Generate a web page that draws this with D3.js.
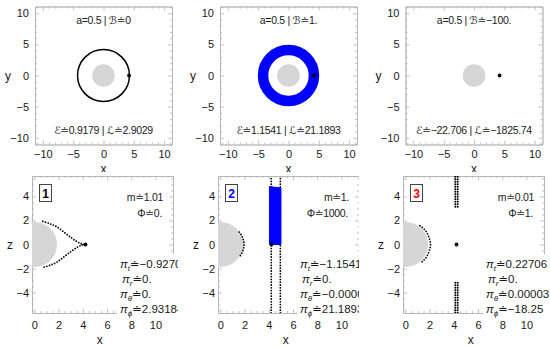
<!DOCTYPE html>
<html>
<head>
<meta charset="utf-8">
<script src="https://cdn.jsdelivr.net/npm/d3@7"></script>
<style>
  body { margin: 0; background: #fff; }
  svg { display: block; font-family: "Liberation Sans", Arial, "DejaVu Sans", sans-serif; }
</style>
</head>
<body>
<svg id="chart"></svg>
<script>
// ---- valores ----
const topTitles = ["a=0.5 | ℬ≐0", "a=0.5 | ℬ≐1.", "a=0.5 | ℬ≐−100."];
const topConsts = ["ℰ≐0.9179 | ℒ≐2.9029", "ℰ≐1.1541 | ℒ≐21.1893", "ℰ≐−22.706 | ℒ≐−1825.74"];
const horizon = 1.866;                 // r+ para a = 0.5
const startX = 4.22;                   // posición inicial de la partícula
const orbitRadius = [4.28, 4.2, null]; // órbita en el plano x-y (null = no hay)
const topTicks = [-10, -5, 0, 5, 10];
const bottomXTicks = [0, 2, 4, 6, 8, 10];
const bottomZTicks = [-4, -2, 0, 2, 4];

const caseLabels = ["1", "2", "3"];
const massText = ["m≐1.01", "m≐1.", "m≐0.01"];
const phiText = ["Φ≐0.", "Φ≐1000.", "Φ≐1."];
const piT = ["−0.92706", "−1.15414", "0.22706"];
const piR = ["0.", "0.", "0."];
const piTheta = ["0.", "−0.00002", "0.00003"];
const piPhi = ["2.93184", "21.1893", "−18.25"];

// trayectorias en el plano x-z (paneles de abajo)
const trace1Upper = [[0.69, 1.92], [1.25, 1.74], [1.84, 1.48], [2.45, 1.02], [3.08, 0.54], [3.5, 0.25], [3.91, 0.05], [4.22, 0]];
const trace1Lower = [[0.8, -1.88], [1.3, -1.72], [1.84, -1.48], [2.45, -1.02], [3.08, -0.54], [3.5, -0.25], [3.91, -0.05], [4.22, 0]];
const trace2Arc = [[1.56, 1.03], [1.75, 0.75], [1.89, 0.4], [1.95, 0], [1.89, -0.4], [1.75, -0.75], [1.56, -1.06]];
const trace2Walls = [4.2, 4.95];
const trace2Band = [[4.05, 0], [4.05, 4.82], [5.0, 4.7], [5.0, 0]];
const trace3Arc = [[1.2, 1.56], [1.5, 1.32], [1.76, 1.0], [1.96, 0.55], [2.08, 0], [1.96, -0.55], [1.76, -1.0], [1.5, -1.32], [1.2, -1.58]];
const trace3Column = [[3.15, 5.7], [-3.18, -5.7]];

const width = 550, height = 348;
const BLUE = "#0000ff", RED = "#ff0000", GRAY = "#d6d6d6", FRAME = "#b4b4b4", INK = "#1a1a1a";

const svg = d3.select("#chart").attr("width", width).attr("height", height);

// marco estilo Mathematica: ticks hacia dentro en los 4 lados
function addAxis(g, axis, transform, major, minor, labels, pad) {
  const a = g.append("g").attr("transform", transform)
    .call(axis.tickValues(minor).tickSize(-2).tickSizeOuter(0).tickFormat(""));
  const b = g.append("g").attr("transform", transform)
    .call(axis.tickValues(major).tickSize(-4).tickSizeOuter(0).tickPadding(pad)
      .tickFormat(labels ? d3.format("") : ""));
  [a, b].forEach(s => {
    s.attr("font-family", null).attr("font-size", 11);
    s.selectAll("path, line").attr("stroke", FRAME).attr("stroke-width", 0.8);
    s.selectAll("text").attr("fill", INK);
  });
}

function frame(g, x, y, xMajor, xMinor, yMajor, yMinor, xPad, yPad) {
  const [x0, x1] = x.range(), [y0, y1] = y.range();
  addAxis(g, d3.axisBottom(x), `translate(0,${y0})`, xMajor, xMinor, true, xPad);
  addAxis(g, d3.axisTop(x), `translate(0,${y1})`, xMajor, xMinor, false, 0);
  addAxis(g, d3.axisLeft(y), `translate(${x0},0)`, yMajor, yMinor, true, yPad);
  addAxis(g, d3.axisRight(y), `translate(${x1},0)`, yMajor, yMinor, false, 0);
}

function clipRect(id, x, y, w, h) {
  svg.append("clipPath").attr("id", id).append("rect")
    .attr("x", x).attr("y", y).attr("width", w).attr("height", h);
  return `url(#${id})`;
}

const dotted = sel => sel.attr("fill", "none").attr("stroke", "#000")
  .attr("stroke-width", 1.8).attr("stroke-linecap", "round").attr("stroke-dasharray", "0,2.8");

// texto "apretado" como el de Mathematica
const label = (g, x, y, txt, anchor) => g.append("text").attr("x", x).attr("y", y)
  .attr("text-anchor", anchor).attr("font-size", 10.5).attr("letter-spacing", -0.3)
  .attr("fill", INK).text(txt);

// ---- fila de arriba: plano x-y ----
const topLeft = [35, 220, 405.5];
topLeft.forEach((L, i) => {
  const x = d3.scaleLinear().domain([-11.3, 11.3]).range([L, L + 137]);
  const y = d3.scaleLinear().domain([-11.1, 11.1]).range([144.5, 6.5]);
  const g = svg.append("g");
  const minor = d3.range(-11, 12, 1).filter(v => v % 5 !== 0);
  frame(g, x, y, topTicks, minor, topTicks, minor, 6, 6);

  const k = x(1) - x(0);
  const plot = g.append("g").attr("clip-path", clipRect("ct" + i, L, 6.5, 137, 138));
  plot.append("circle").attr("cx", x(0)).attr("cy", y(0)).attr("r", horizon * k).attr("fill", GRAY);
  if (orbitRadius[i] !== null) {
    plot.append("circle").attr("cx", x(0)).attr("cy", y(0)).attr("r", orbitRadius[i] * k)
      .attr("fill", "none")
      .attr("stroke", i === 1 ? BLUE : "#000")
      .attr("stroke-width", i === 1 ? 10.5 : 1.5);
  }
  plot.append("circle").attr("cx", x(startX)).attr("cy", y(0)).attr("r", 1.9).attr("fill", "#000");

  label(g, x(0), 24, topTitles[i], "middle");
  label(g, x(0), 134, topConsts[i], "middle");
  g.append("text").attr("x", L - 27).attr("y", y(0) + 4).attr("text-anchor", "middle")
    .attr("font-size", 12).attr("fill", INK).text("y");
  g.append("text").attr("x", x(0)).attr("y", 173).attr("text-anchor", "middle")
    .attr("font-size", 12).attr("fill", INK).text("x");
});

// ---- fila de abajo: plano x-z ----
const botLeft = [32, 218, 403];
const clipRight = [180, 359, 550];
const piLeft = [88, 82, 83];
botLeft.forEach((L, i) => {
  const x = d3.scaleLinear().domain([-0.2, 11.45]).range([L, L + 141]);
  const z = d3.scaleLinear().domain([-5.7, 5.7]).range([313, 176]);
  const g = svg.append("g").attr("clip-path", clipRect("cp" + i, L - 40, 172, clipRight[i] - L + 40, 176));
  g.append("rect").attr("x", L - 40).attr("y", 172).attr("width", clipRight[i] - L + 40).attr("height", 176).attr("fill", "#fff");

  const xMinor = d3.range(0, 11.01, 0.5).filter(v => v % 2 !== 0);
  const zMinor = d3.range(-5.5, 5.51, 0.5).filter(v => v % 2 !== 0);
  frame(g, x, z, bottomXTicks, xMinor, bottomZTicks, zMinor, 8, 3);

  const k = x(1) - x(0);
  const plot = g.append("g").attr("clip-path", clipRect("cb" + i, L, 176, 141, 137));
  plot.append("circle").attr("cx", x(0)).attr("cy", z(0)).attr("r", horizon * k).attr("fill", GRAY);

  const line = d3.line().x(d => x(d[0])).y(d => z(d[1])).curve(d3.curveCatmullRom);
  if (i === 0) {
    plot.append("path").attr("d", line(trace1Upper)).call(dotted);
    plot.append("path").attr("d", line(trace1Lower)).call(dotted);
  } else if (i === 1) {
    plot.append("path").attr("d", line(trace2Arc)).call(dotted);
    trace2Walls.forEach(w => plot.append("path")
      .attr("d", line([[w, -5.7], [w, 5.7]])).call(dotted));
    plot.append("path").attr("d", d3.line().x(d => x(d[0])).y(d => z(d[1]))(trace2Band) + "Z")
      .attr("fill", BLUE).attr("stroke", BLUE).attr("stroke-width", 1);
  } else {
    plot.append("path").attr("d", line(trace3Arc)).call(dotted);
    // columna doble de puntos
    trace3Column.forEach(s => [-1.2, 1.2].forEach(off => plot.append("path")
      .attr("d", line([[startX, s[0]], [startX, s[1]]]))
      .attr("transform", `translate(${off},0)`).call(dotted)
      .attr("stroke-width", 2).attr("stroke-dasharray", "0,2.5")));
  }
  plot.append("circle").attr("cx", x(startX)).attr("cy", z(0)).attr("r", 1.9).attr("fill", "#000");

  // recuadro con el número de caso
  g.append("rect").attr("x", L + 7.5).attr("y", 184.5).attr("width", 12).attr("height", 17)
    .attr("fill", "#fff").attr("stroke", "#444").attr("stroke-width", 1);
  g.append("text").attr("x", L + 13.5).attr("y", 197.5).attr("text-anchor", "middle")
    .attr("font-size", 12).attr("font-weight", "bold")
    .attr("fill", ["#000", BLUE, RED][i]).text(caseLabels[i]);

  label(g, L + 131, 201, massText[i], "end");
  label(g, L + 130, 217, phiText[i], "end");

  // bloque de momentos con fondo blanco
  const px = L + piLeft[i];
  g.append("rect").attr("x", px - 3).attr("y", 254).attr("width", 80).attr("height", 64).attr("fill", "#fff");
  const rows = [["t", piT[i], 268, 0], ["r", piR[i], 283, 2], ["θ", piTheta[i], 298, 0], ["ϕ", piPhi[i], 313, 0]];
  rows.forEach(([sub, val, yy, dx]) => {
    const t = g.append("text").attr("x", px + dx).attr("y", yy).attr("font-size", 11.5)
      .attr("fill", INK);
    t.append("tspan").attr("font-style", "italic").text("π");
    t.append("tspan").attr("font-style", "italic").attr("font-size", 8).attr("dy", 2.5).text(sub);
    t.append("tspan").attr("dy", -2.5).text("≐" + val);
  });

  g.append("text").attr("x", L - 22).attr("y", z(0) + 4).attr("text-anchor", "middle")
    .attr("font-size", 12).attr("fill", INK).text("z");
  g.append("text").attr("x", x(5.4)).attr("y", 344).attr("text-anchor", "middle")
    .attr("font-size", 12).attr("fill", INK).text("x");
});
</script>
</body>
</html>
